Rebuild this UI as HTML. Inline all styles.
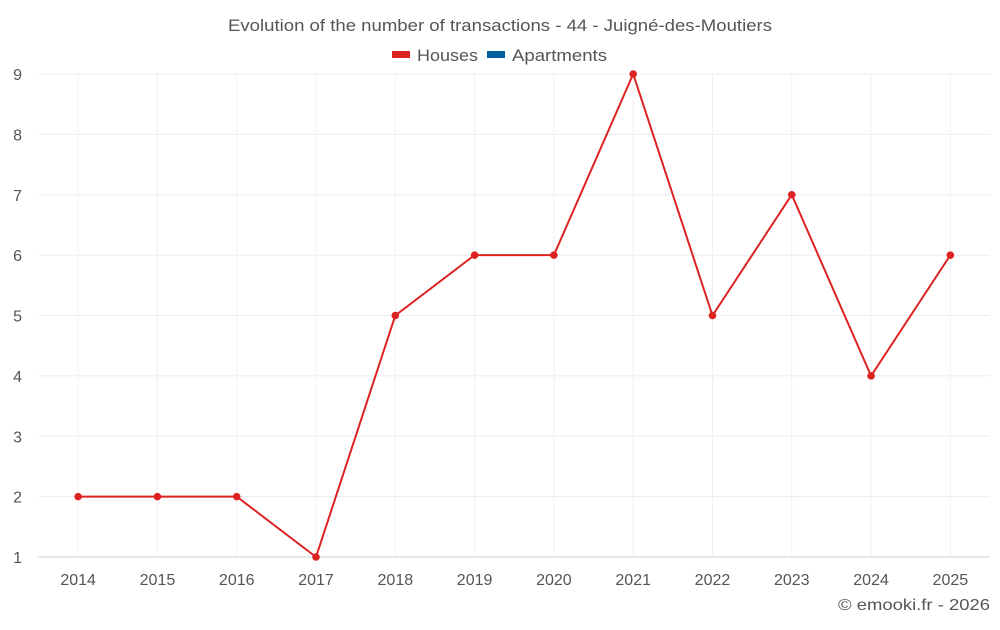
<!DOCTYPE html>
<html><head><meta charset="utf-8"><style>
body{margin:0;background:#fff;font-family:"Liberation Sans",sans-serif;}
svg text{font-family:"Liberation Sans",sans-serif;fill:#555;}
</style></head><body>
<svg id="chart" width="1000" height="625">
<text x="228" y="31" font-size="17" textLength="544" lengthAdjust="spacingAndGlyphs">Evolution of the number of transactions - 44 - Juigné-des-Moutiers</text>
<g>
<g><rect x="392" y="51" width="18" height="7" fill="#dd2222"/><text x="417" y="61" font-size="17" textLength="61" lengthAdjust="spacingAndGlyphs">Houses</text></g>
<g><rect x="487" y="51" width="18" height="7" fill="#005f9e"/><text x="512" y="61" font-size="17" textLength="95" lengthAdjust="spacingAndGlyphs">Apartments</text></g>
</g>
<g id="grid"></g><g id="axes"></g><g id="series"></g>
<text x="838" y="610" font-size="16" textLength="152" lengthAdjust="spacingAndGlyphs">© emooki.fr - 2026</text>
</svg>
<script>
const categories=["2014","2015","2016","2017","2018","2019","2020","2021","2022","2023","2024","2025"];
const houses=[2,2,2,1,5,6,6,9,5,7,4,6];
const yTicks=[1,2,3,4,5,6,7,8,9];
const L=38.5,R=990,T=74,B=557,yMin=1,yMax=9;
const step=(R-L)/categories.length;
const xs=i=>L+step*(i+0.5);
const ys=v=>B-(v-yMin)/(yMax-yMin)*(B-T);
const NS="http://www.w3.org/2000/svg";
function mk(tag,attrs,parent){const e=document.createElementNS(NS,tag);for(const k in attrs)e.setAttribute(k,attrs[k]);parent.appendChild(e);return e;}
const grid=document.getElementById('grid'),axes=document.getElementById('axes'),ser=document.getElementById('series');
yTicks.forEach(v=>{
 const l=mk('line',{x1:L,x2:R,y1:ys(v),y2:ys(v),stroke:v===yMin?'#ccc':'#ececec'},grid);
 
 
 const t=mk('text',{x:22,y:ys(v)+6,'text-anchor':'end','font-size':16},axes);
 t.textContent=v;
 
 
});
categories.forEach((c,i)=>{
 const l=mk('line',{x1:xs(i),x2:xs(i),y1:T,y2:B,stroke:'#f0f0f0'},grid);
 
 
 const t=mk('text',{x:xs(i),y:585,'text-anchor':'middle','font-size':16},axes);
 t.textContent=c;
 
 
});
const p=mk('polyline',{points:houses.map((v,i)=>xs(i)+','+ys(v)).join(' '),fill:'none',stroke:'#dd2222','stroke-width':2},ser);


houses.forEach((v,i)=>{
 const c=mk('circle',{cx:xs(i),cy:ys(v),r:3.8,fill:'#dd2222'},ser);
 
 
});
</script>
</body></html>
